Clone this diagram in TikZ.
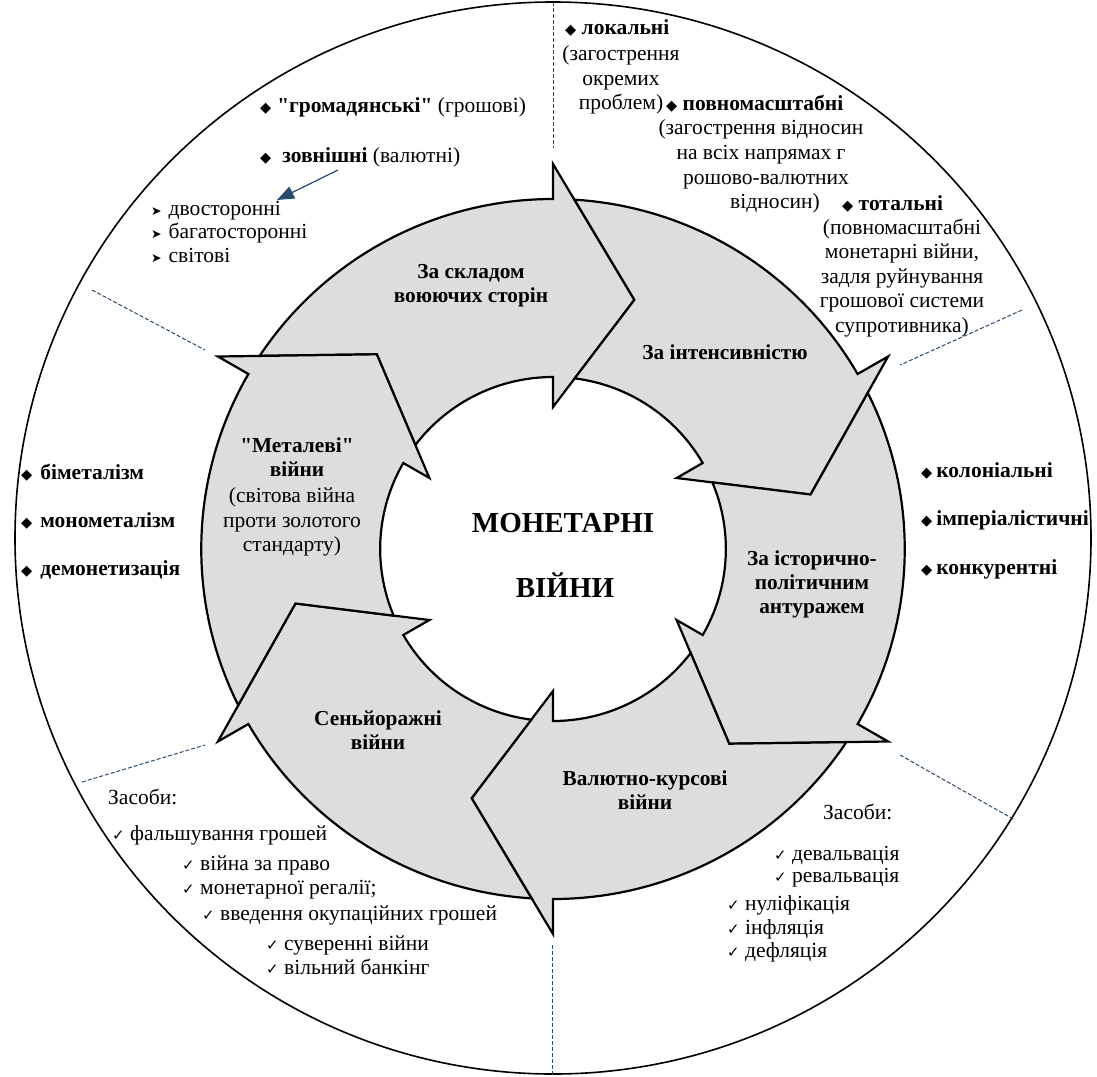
\documentclass[tikz,border=0pt]{standalone}
\usepackage{fontspec}
\setmainfont{Liberation Serif}
\newfontfamily\dejavu{DejaVu Sans}
\usetikzlibrary{arrows.meta}
\definecolor{ringgray}{HTML}{DCDDDF}
\definecolor{linkblue}{HTML}{2B4A6F}
\font\qbold="Liberation Serif/B" at 21.3pt
\newcommand{\dmd}{{\dejavu\fontsize{14.5}{14}\selectfont ◆}}
\newcommand{\chk}{{\dejavu\fontsize{15}{14}\selectfont ✓}}
\newcommand{\arrb}{{\dejavu\fontsize{12.5}{12}\selectfont ➤}}
\newcommand{\qq}{{\qbold\char34}}
\tikzset{
  ringarrow/.style={fill=ringgray,draw=black,line width=2.2pt,line join=miter},
  rim/.style={draw=black,line width=1.6pt},
  sector/.style={draw=linkblue,line width=1pt,dash pattern=on 4pt off 2pt},
  link/.style={-{Triangle[length=17pt,width=13pt]},draw=linkblue,fill=linkblue,line width=1.2pt},
  txt/.style={font=\rmfamily\fontsize{21.5}{24.5}\selectfont,inner sep=0pt},
  lbl/.style={font=\rmfamily\bfseries\fontsize{21.3}{24}\selectfont,align=center,inner sep=0pt},
  title/.style={font=\rmfamily\bfseries\fontsize{29}{30}\selectfont,inner sep=0pt},
}
\begin{document}
\begin{tikzpicture}[x=1pt,y=1pt]
  \useasboundingbox (0,0) rectangle (1097,-1076);
  % outer circle and sector borders
  \draw[rim] (553,-538) ellipse [x radius=538pt, y radius=536pt];
  \foreach \xa/\ya/\xb/\yb in {553/2/553/148, 552/945/552/1075, 92/290/205/350,
      1022/310/900/365, 82/782/205/745, 900/755/1015/820}
    \draw[sector] (\xa,-\ya) -- (\xb,-\yb);

  % ring of six arrows
  \begin{scope}[shift={(553,-549)},xscale=1.005]
    \foreach \bb in {90,30,-30,-90,-150,150}{
      \pgfmathsetmacro\tout{\bb+56.5}
      \pgfmathsetmacro\tin{\bb+52.8}
      \pgfmathsetmacro\tnotch{\bb+42}
      \pgfmathsetmacro\htip{\bb-18}
      \draw[ringarrow] (\tout:350) arc[start angle=\tout, end angle=\bb, radius=350pt]
        -- (\bb:385) -- (\htip:262) -- (\bb:142) -- (\bb:172)
        arc[start angle=\bb, end angle=\tin, radius=172pt] -- (\tnotch:262) -- cycle;
    }
  \end{scope}

  % arrow labels
  \node[lbl] (sklad) at (471,-286) {За складом\\воюючих сторін};
  \node[lbl] (intens) at (725,-352) {За інтенсивністю};
  \node[lbl] (istor) at (812,-584) {За історично-\\політичним\\антуражем};
  \node[lbl] (kurs) at (645,-790) {Валютно-курсові\\війни};
  \node[lbl] (senj) at (378,-730) {Сеньйоражні\\війни};
  \node[lbl] (metal) at (297,-457) {\qq Металеві\qq\\війни};
  \node[txt,align=center] (metaltxt) at (292,-522) {(світова війна\\проти золотого\\стандарту)};
  \node[title] (mon) at (563,-523) {МОНЕТАРНІ};
  \node[title] (vijny) at (565,-585) {ВІЙНИ};

  % top left: sides
  \node[txt,anchor=mid west] (grom) at (260,-110) {\dmd\hspace{6pt}\textbf{\qq громадянські\qq} (грошові)};
  \node[txt,anchor=mid west] (zovn) at (260,-160) {\dmd\hspace{11pt}\textbf{зовнішні} (валютні)};
  \foreach \lab [count=\i] in {двосторонні,багатосторонні,світові}
    \node[txt,anchor=mid west] (vid\i) at (151,{-213-23.5*(\i-1)}) {\arrb\hspace{7pt}\lab};
  \coordinate (zovnend) at (338,-170);
  \coordinate (dvoend) at (277,-200);
  \draw[link] (zovnend) -- (dvoend);

  % top right: intensity
  \node[txt,anchor=mid west] (lok) at (565,-32) {\dmd\ \textbf{локальні}};
  \node[txt,align=center] (loktxt) at (621,-80) {(загострення\\окремих\\проблем)};
  \node[txt,anchor=mid west] (povn) at (666,-108) {\dmd\ \textbf{повномасштабні}};
  \node[txt,anchor=mid] (povn1) at (761,-132) {(загострення відносин};
  \node[txt,anchor=mid] (povn2) at (761,-157) {на всіх напрямах г};
  \node[txt,anchor=mid] (povn3) at (766,-182) {рошово-валютних};
  \node[txt,anchor=mid] (povn4) at (775,-206) {відносин)};
  \node[txt,anchor=mid west] (tot) at (842,-208) {\dmd\ \textbf{тотальні}};
  \node[txt,align=center] (tottxt) at (902,-278) {(повномасштабні\\монетарні війни,\\задля руйнування\\грошової системи\\супротивника)};

  % left and right lists
  \foreach \lab [count=\i] in {біметалізм,монометалізм,демонетизація}
    \node[txt,anchor=mid west] (met\i) at (21,{-477-48*(\i-1)}) {\dmd\hspace{8pt}\textbf{\lab}};
  \foreach \lab [count=\i] in {колоніальні,імперіалістичні,конкурентні}
    \node[txt,anchor=mid west] (ist\i) at (921,{-475-48.5*(\i-1)}) {\dmd\hspace{4pt}\textbf{\lab}};

  % bottom: means
  \node[txt,anchor=mid west] (zasl) at (108,-802) {Засоби:};
  \foreach \xx/\yy/\lab [count=\i] in {112/838/фальшування грошей, 182/868/війна за право,
      182/892/монетарної регалії;, 202/918/введення окупаційних грошей,
      266/948/суверенні війни, 266/972/вільний банкінг}
    \node[txt,anchor=mid west] (sen\i) at (\xx,-\yy) {\chk\ \lab};
  \node[txt,anchor=mid west] (zasr) at (823,-817) {Засоби:};
  \foreach \xx/\yy/\lab [count=\i] in {774/858/девальвація, 774/880/ревальвація,
      727/908/нуліфікація, 727/932/інфляція, 727/955/дефляція}
    \node[txt,anchor=mid west] (val\i) at (\xx,-\yy) {\chk\ \lab};
\end{tikzpicture}
\end{document}
